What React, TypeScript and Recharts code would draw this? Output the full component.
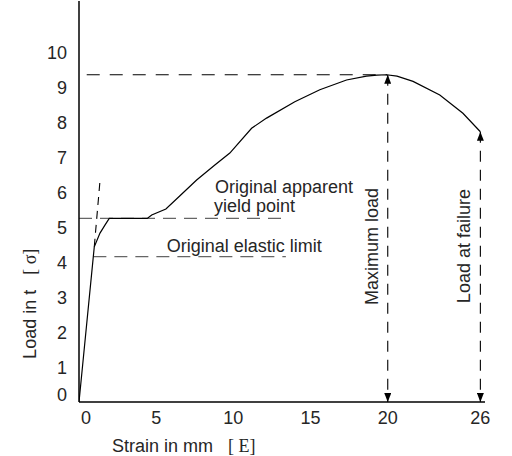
import React from 'react';
import { ComposedChart, Line, Scatter, XAxis, YAxis, Label } from 'recharts';

// Load–strain curve (strain in mm, load in t)
const strainMm = [0, 0.99, 1.36, 1.68, 1.96, 4.42, 4.71, 5.63, 6.54, 7.62, 8.8, 9.77, 11.18, 12.15, 13.98, 15.6, 17.33, 18.62, 19.3, 19.92, 20.6, 21.64, 23.37, 24.87, 26.0];
const loadT = [0, 4.44, 4.83, 5.06, 5.25, 5.25, 5.35, 5.52, 5.9, 6.35, 6.78, 7.12, 7.83, 8.12, 8.59, 8.93, 9.21, 9.32, 9.35, 9.36, 9.32, 9.17, 8.78, 8.26, 7.73];

const xTicks = [0, 5, 10, 15, 20, 26];
const yTicks = [0, 1, 2, 3, 4, 5, 6, 7, 8, 9, 10];

// Guide lines
const maxLoadGuide = [{ x: 0.5, y: 9.36 }, { x: 19.95, y: 9.36 }];
const yieldGuide = [{ x: 0, y: 5.25 }, { x: 13.3, y: 5.25 }];
const elasticGuide = [{ x: 0.93, y: 4.16 }, { x: 13.4, y: 4.16 }];
const offsetGuide = [{ x: 0.99, y: 4.44 }, { x: 1.37, y: 6.38 }];
const maxLoadArrow = [{ x: 20, y: 9.36 }, { x: 20, y: 0 }];
const failureArrow = [{ x: 26, y: 7.73 }, { x: 26, y: 0 }];

// Annotations
const annotationText = ['Original apparent', 'yield point', 'Original elastic limit', 'Maximum load', 'Load at failure'];
const annotationX = [8.81, 8.75, 5.68, 19.0, 24.94];
const annotationY = [5.97, 5.44, 4.29, 4.45, 4.46];
const annotationRotated = [false, false, false, true, true];

const curveData = strainMm.map((x, i) => ({ x, y: loadT[i] }));
const annotations = annotationText.map((text, i) => ({
  x: annotationX[i],
  y: annotationY[i],
  text,
  rot: annotationRotated[i],
}));

const FONT = '"Liberation Sans", Arial, Helvetica, sans-serif';
const SERIF = '"Liberation Serif", "DejaVu Serif", serif';
const TXT = '#262626';
const FS = 18;

const XTick = (props: any) => {
  const { x, y, payload } = props;
  const shift = payload.value === 0 ? 7 : 0;
  return (
    <text x={x + shift} y={y + 22} textAnchor="middle" fontFamily={FONT} fontSize={FS} fill={TXT}>
      {payload.value}
    </text>
  );
};

const YTick = (props: any) => {
  const { x, y, payload } = props;
  const shift = payload.value === 0 ? -7 : 0;
  return (
    <text x={x - 12} y={y + shift} dy="0.36em" textAnchor="end" fontFamily={FONT} fontSize={FS} fill={TXT}>
      {payload.value}
    </text>
  );
};

const AnnotationShape = (props: any) => {
  const { cx, cy, payload } = props;
  if (payload.rot) {
    return (
      <text
        x={cx}
        y={cy}
        textAnchor="middle"
        dominantBaseline="central"
        transform={`rotate(-90, ${cx}, ${cy})`}
        fontFamily={FONT}
        fontSize={FS}
        fill={TXT}
      >
        {payload.text}
      </text>
    );
  }
  return (
    <text x={cx} y={cy} textAnchor="start" fontFamily={FONT} fontSize={FS} fill={TXT}>
      {payload.text}
    </text>
  );
};

const XTitle = (props: any) => {
  const vb = props.viewBox;
  return (
    <text x={vb.x + 33} y={vb.y + 50} fontFamily={FONT} fontSize={FS} fill={TXT} style={{ whiteSpace: 'pre' }}>
      <tspan>Strain in mm   </tspan>
      <tspan fontFamily={SERIF}>[ E]</tspan>
    </text>
  );
};

const YTitle = (props: any) => {
  const vb = props.viewBox;
  const cx = vb.x + 30;
  const cy = vb.y + vb.height * 0.755;
  return (
    <text
      x={cx}
      y={cy}
      textAnchor="middle"
      dominantBaseline="central"
      transform={`rotate(-90, ${cx}, ${cy})`}
      fontFamily={FONT}
      fontSize={FS}
      fill={TXT}
      style={{ whiteSpace: 'pre' }}
    >
      <tspan>Load in t   </tspan>
      <tspan fontFamily={SERIF}>[ σ]</tspan>
    </text>
  );
};

export default function App() {
  return (
    <div style={{ position: 'absolute', left: 0, top: 0, width: 512, height: 456, background: '#fff' }}>
      <ComposedChart width={512} height={456} margin={{ top: 1, right: 27, bottom: 0, left: 0 }}>
        <defs>
          <marker id="arrowUp" markerUnits="userSpaceOnUse" markerWidth="9" markerHeight="7" refX="0" refY="3.5" orient="auto">
            <path d="M9,0 L0,3.5 L9,7 z" fill="#000" />
          </marker>
          <marker id="arrowDown" markerUnits="userSpaceOnUse" markerWidth="9" markerHeight="7" refX="9" refY="3.5" orient="auto">
            <path d="M0,0 L9,3.5 L0,7 z" fill="#000" />
          </marker>
        </defs>
        <XAxis
          type="number"
          dataKey="x"
          domain={[0, 26.3]}
          ticks={xTicks}
          allowDataOverflow
          height={54}
          tickSize={0}
          tickMargin={0}
          tickLine={false}
          axisLine={{ stroke: '#000', strokeWidth: 1.5 }}
          tick={<XTick />}
          interval={0}
        >
          <Label content={<XTitle />} />
        </XAxis>
        <YAxis
          type="number"
          dataKey="y"
          domain={[0, 11.47]}
          ticks={yTicks}
          allowDataOverflow
          width={79}
          tickSize={0}
          tickMargin={0}
          tickLine={false}
          axisLine={{ stroke: '#000', strokeWidth: 1.5 }}
          tick={<YTick />}
          interval={0}
        >
          <Label content={<YTitle />} />
        </YAxis>

        <Line data={yieldGuide} dataKey="y" type="linear" stroke="#666" strokeWidth={1.2} strokeDasharray="13 8" dot={false} activeDot={false} isAnimationActive={false} />
        <Line data={elasticGuide} dataKey="y" type="linear" stroke="#666" strokeWidth={1.2} strokeDasharray="13 8" dot={false} activeDot={false} isAnimationActive={false} />
        <Line data={maxLoadGuide} dataKey="y" type="linear" stroke="#000" strokeWidth={1.1} strokeDasharray="13 10" dot={false} activeDot={false} isAnimationActive={false} />
        <Line data={offsetGuide} dataKey="y" type="linear" stroke="#000" strokeWidth={1.1} strokeDasharray="8 6" dot={false} activeDot={false} isAnimationActive={false} />
        <Line data={maxLoadArrow} dataKey="y" type="linear" stroke="#000" strokeWidth={1.1} strokeDasharray="11 8" dot={false} activeDot={false} isAnimationActive={false} markerStart="url(#arrowUp)" markerEnd="url(#arrowDown)" />
        <Line data={failureArrow} dataKey="y" type="linear" stroke="#000" strokeWidth={1.1} strokeDasharray="11 8" dot={false} activeDot={false} isAnimationActive={false} markerStart="url(#arrowUp)" markerEnd="url(#arrowDown)" />
        <Line data={curveData} dataKey="y" type="linear" stroke="#000" strokeWidth={1.2} dot={false} activeDot={false} isAnimationActive={false} />
        <Scatter data={annotations} dataKey="y" shape={<AnnotationShape />} isAnimationActive={false} />
      </ComposedChart>
    </div>
  );
}
